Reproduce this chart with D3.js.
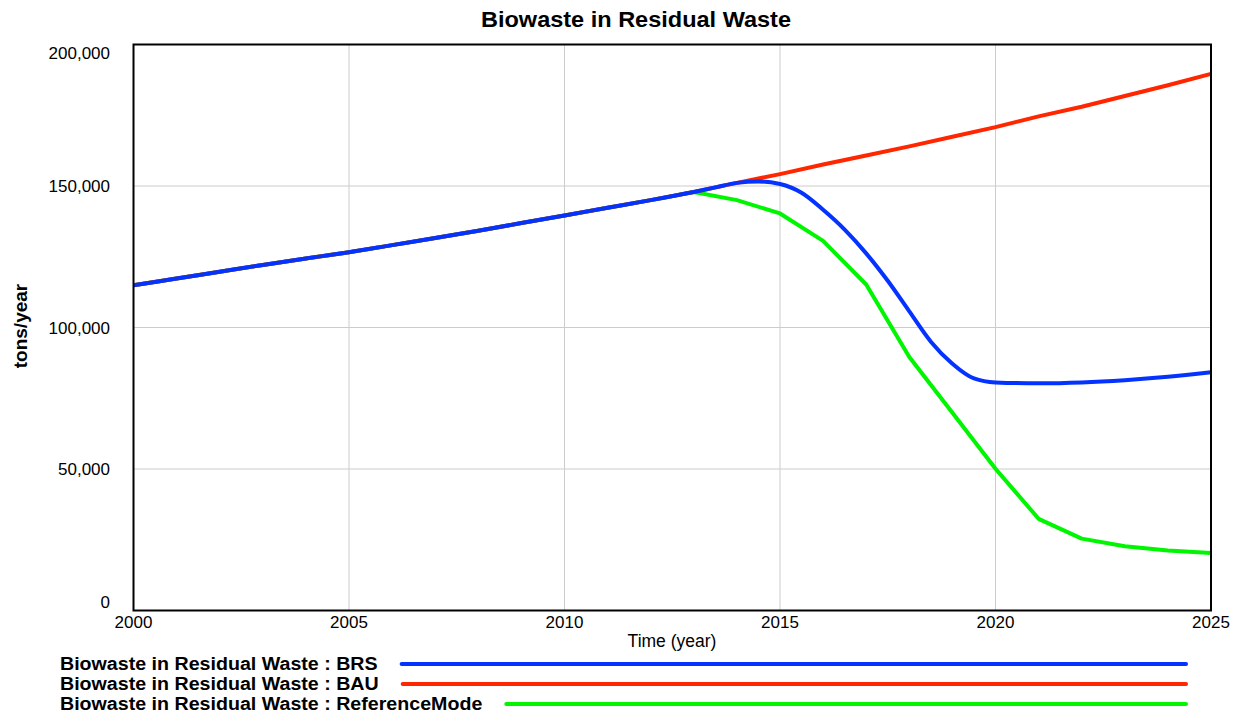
<!DOCTYPE html>
<html><head><meta charset="utf-8">
<script src="https://cdn.jsdelivr.net/npm/d3@7"></script>
<style>body{margin:0;background:#fff}svg{display:block;font-family:"Liberation Sans",Arial,Helvetica,sans-serif}</style>
</head><body><svg id="c" width="1235" height="714"></svg>
<script>
const years = d3.range(2000, 2026);
const bau = [114.9,117.3,119.7,122.1,124.4,126.6,129.1,131.6,134.2,136.9,139.6,142.3,145.0,147.9,151.1,154.2,157.6,160.8,164.0,167.4,170.8,174.6,178.0,181.8,185.6,189.6].map(v=>v*1000);
const brsTime = [2000,2001,2002,2003,2004,2005,2006,2007,2008,2009,2010,2011,2012,2013,2013.5,2014,2014.5,2015,2015.5,2016,2016.5,2017,2017.5,2018,2018.5,2019,2019.5,2020,2021,2022,2023,2024,2025];
const brs = [114.9,117.3,119.7,122.1,124.4,126.6,129.1,131.6,134.2,136.9,139.6,142.3,145.0,147.9,149.5,151.1,151.6,150.7,147.6,141.6,134.6,126.2,116.5,105.7,95.0,87.2,82.0,80.6,80.3,80.6,81.4,82.6,84.2].map(v=>v*1000);
const refMode = [114.9,117.3,119.7,122.1,124.4,126.6,129.1,131.6,134.2,136.9,139.6,142.3,145.0,147.9,145.0,140.3,130.6,115.2,89.6,69.9,50.1,32.4,25.4,22.7,21.2,20.3].map(v=>v*1000);
const yTicks = [0,50000,100000,150000,200000];
const xTicks = [2000,2005,2010,2015,2020,2025];
const seriesNames = ["Biowaste in Residual Waste : BRS","Biowaste in Residual Waste : BAU","Biowaste in Residual Waste : ReferenceMode"];
const colors = ["#0433ff","#ff2600","#00f500"];

const svg = d3.select("#c");
const L=133.5, R=1211, T=44.5, B=610.5;
const x = d3.scaleLinear().domain([2000,2025]).range([L,R]);
const y = d3.scaleLinear().domain([0,200000]).range([B,T]);

// grid
svg.append("g").selectAll("line").data(xTicks.slice(1,-1)).join("line")
  .attr("x1",d=>x(d)).attr("x2",d=>x(d)).attr("y1",T).attr("y2",B)
  .attr("stroke","#cccccc").attr("stroke-width",1);
svg.append("g").selectAll("line").data(yTicks.slice(1,-1)).join("line")
  .attr("y1",d=>y(d)).attr("y2",d=>y(d)).attr("x1",L).attr("x2",R)
  .attr("stroke","#cccccc").attr("stroke-width",1);

// lines
const line = d3.line().x(d=>x(d[0])).y(d=>y(d[1]));
const lineSmooth = d3.line().x(d=>x(d[0])).y(d=>y(d[1])).curve(d3.curveMonotoneX);
svg.append("path").datum(years.map((t,i)=>[t,refMode[i]])).attr("d",line)
  .attr("fill","none").attr("stroke",colors[2]).attr("stroke-width",4).attr("stroke-linejoin","round");
svg.append("path").datum(years.map((t,i)=>[t,bau[i]])).attr("d",line)
  .attr("fill","none").attr("stroke",colors[1]).attr("stroke-width",4).attr("stroke-linejoin","round");
svg.append("path").datum(brsTime.map((t,i)=>[t,brs[i]])).attr("d",lineSmooth)
  .attr("fill","none").attr("stroke",colors[0]).attr("stroke-width",4).attr("stroke-linejoin","round");

// frame
svg.append("rect").attr("x",L).attr("y",T).attr("width",R-L).attr("height",B-T)
  .attr("fill","none").attr("stroke","#000").attr("stroke-width",2);

// y tick labels
svg.append("g").selectAll("text").data(yTicks).join("text")
  .attr("x",110).attr("y",d=> d===200000 ? y(d)+14 : d===0 ? y(d)-3 : y(d)+6)
  .attr("text-anchor","end").attr("font-size",17).attr("fill","#000")
  .text(d=>d3.format(",")(d));
// x tick labels
svg.append("g").selectAll("text").data(xTicks).join("text")
  .attr("x",d=>x(d)).attr("y",628).attr("text-anchor","middle").attr("font-size",17).attr("fill","#000")
  .text(d=>d);

svg.append("text").attr("x",672).attr("y",647).attr("text-anchor","middle").attr("font-size",17.5).text("Time (year)");
svg.append("text").attr("transform","translate(27,326) rotate(-90)").attr("text-anchor","middle")
  .attr("font-size",19).attr("font-weight","bold").text("tons/year");
svg.append("text").attr("x",636).attr("y",27).attr("text-anchor","middle").attr("font-size",22).attr("font-weight","bold")
  .attr("textLength",310).attr("lengthAdjust","spacingAndGlyphs").text("Biowaste in Residual Waste");

// legend
const lg = svg.append("g");
seriesNames.forEach((n,i)=>{
  const yy = 664 + i*20;
  const t = lg.append("text").attr("x",60).attr("y",yy+6).attr("font-size",18).attr("font-weight","bold").text(n);
  const w = t.node().getComputedTextLength()*1.09;
  t.attr("textLength",w).attr("lengthAdjust","spacingAndGlyphs");
  lg.append("line").attr("x1",60+w+24).attr("x2",1186).attr("y1",yy).attr("y2",yy)
    .attr("stroke",colors[i]).attr("stroke-width",4).attr("stroke-linecap","round");
});
</script></body></html>
